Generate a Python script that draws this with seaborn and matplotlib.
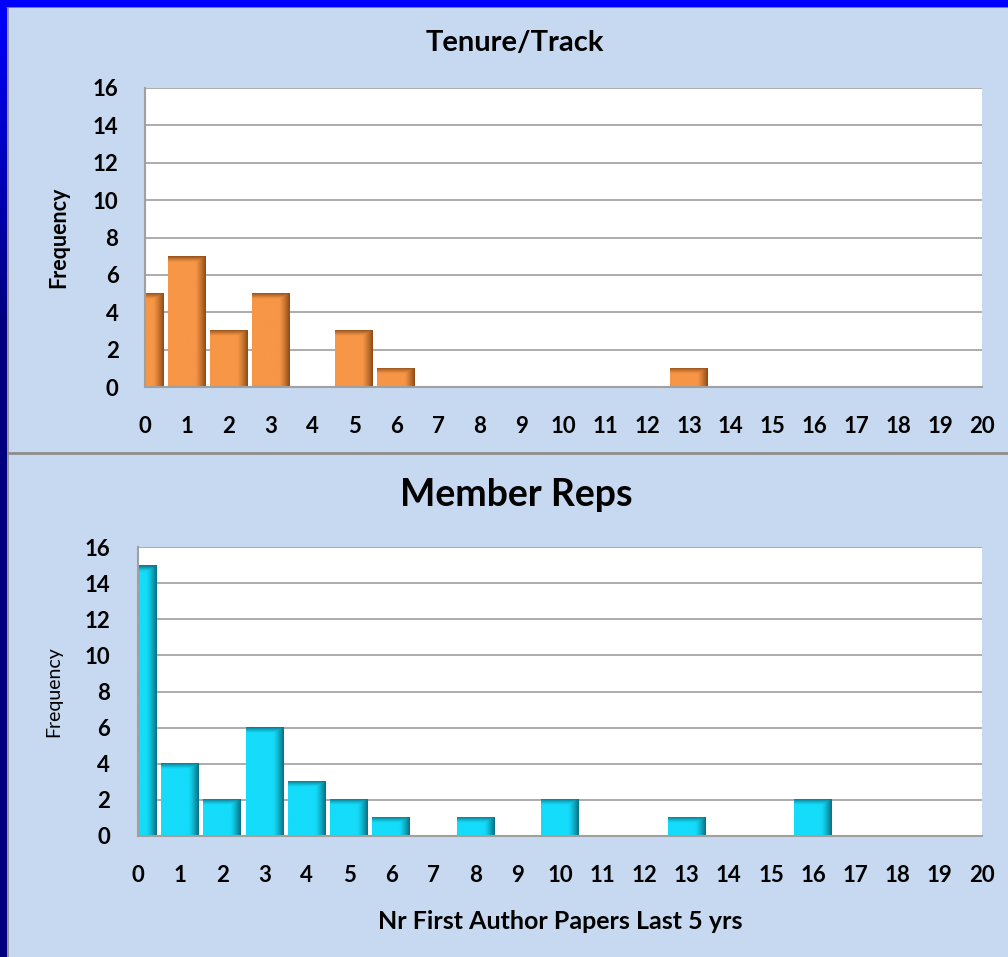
import numpy as np
import seaborn as sns
import matplotlib.pyplot as plt
from matplotlib.colors import to_rgb

# Veriler
bins = list(range(21))
tenure_counts = [5, 7, 3, 5, 0, 3, 1, 0, 0, 0, 0, 0, 0, 1, 0, 0, 0, 0, 0, 0, 0]
member_counts = [15, 4, 2, 6, 3, 2, 1, 0, 1, 0, 2, 0, 0, 1, 0, 0, 2, 0, 0, 0, 0]
y_ticks = list(range(0, 17, 2))

sns.set_style("white")
plt.rcParams['font.family'] = ['Lato', 'DejaVu Sans']
plt.rcParams['text.color'] = 'black'
plt.rcParams['axes.labelcolor'] = 'black'

W, H = 1008, 957
panel_bg = '#C6D9F0'
grid_col = '#A6A6A6'

fig = plt.figure(figsize=(W / 100, H / 100), dpi=100)
fig.patch.set_facecolor(panel_bg)


def fx(px):
    return px / W


def fy(px):
    return 1 - px / H


# Kenarlık: sol gradyan ve üst mavi şerit
strip = fig.add_axes([0, 0, fx(7), 1])
grad = np.linspace(0, 1, 256).reshape(-1, 1)
col = np.zeros((256, 1, 3))
col[:, 0, 2] = 0.5 + 0.5 * np.clip(1 - grad[:, 0] * 3, 0, 1)
strip.imshow(col, aspect='auto', extent=(0, 1, 0, 1))
strip.axis('off')
fig.add_artist(plt.Rectangle((0, fy(6)), 1, 1 - fy(6), transform=fig.transFigure,
                             color='#0000FF', zorder=5))
fig.add_artist(plt.Line2D([fx(7.5), fx(7.5)], [0, fy(6)], transform=fig.transFigure,
                          color='#8C8C8C', lw=1.2))
fig.add_artist(plt.Line2D([fx(7), 1], [fy(6.5), fy(6.5)], transform=fig.transFigure,
                          color='#8C8C8C', lw=1.2))
# Paneller arasındaki çizgi
fig.add_artist(plt.Line2D([fx(8), 1], [fy(453), fy(453)], transform=fig.transFigure,
                          color='#8C8C8C', lw=2))


def shade_bars(ax, base, dark):
    b = np.array(to_rgb(base))
    d = np.array(to_rgb(dark))
    for p in list(ax.patches):
        x0, y0 = p.get_x(), p.get_y()
        w, h = p.get_width(), p.get_height()
        if h <= 0:
            continue
        nx, ny = 120, 120
        t = np.linspace(0, 1, nx)
        fh = np.clip((t - 0.72) / 0.28, 0, 1) ** 1.3
        band = min(0.3 / h, 0.45)
        v = np.linspace(0, 1, ny)  # 0 = alt, 1 = üst
        fv = np.clip((v - (1 - band)) / band, 0, 1) ** 1.2
        f = np.maximum(fh[None, :], 0.85 * fv[:, None])
        img = b[None, None, :] * (1 - f[..., None]) + d[None, None, :] * f[..., None]
        ax.imshow(img, extent=(x0, x0 + w, y0, y0 + h), origin='lower',
                  aspect='auto', zorder=2, interpolation='bilinear')
        p.set_visible(False)


def style_axes(ax, tick_size, pad_y):
    ax.set_facecolor('white')
    ax.set_xlim(0, 20)
    ax.set_ylim(0, 16)
    ax.set_yticks(y_ticks)
    ax.set_xticks(bins)
    ax.set_xticklabels([str(b) for b in bins])
    ax.set_axisbelow(True)
    ax.yaxis.grid(True, color=grid_col, lw=1.3)
    ax.xaxis.grid(False)
    for s in ['top', 'right']:
        ax.spines[s].set_visible(False)
    for s in ['left', 'bottom']:
        ax.spines[s].set_color('#A0A0A0')
        ax.spines[s].set_linewidth(1.5)
    ax.tick_params(axis='both', direction='out', length=7, width=1.3, color='#A0A0A0',
                   labelsize=tick_size, labelcolor='black')
    ax.tick_params(axis='x', pad=14)
    ax.tick_params(axis='y', pad=pad_y)
    for lab in ax.get_xticklabels() + ax.get_yticklabels():
        lab.set_fontweight('bold')


# Üst panel: Tenure/Track
ax1 = fig.add_axes([fx(145), fy(387), fx(982 - 145), fy(88) - fy(387)])
sns.barplot(x=bins, y=tenure_counts, ax=ax1, color='#F79646', width=0.9, saturation=1)
shade_bars(ax1, '#F79646', '#8A4A16')
style_axes(ax1, 16, 12)
ax1.set_ylabel('Frequency', fontsize=15.5, fontweight='bold', labelpad=17)
ax1.set_xlabel('')
fig.text(fx(515), fy(43), 'Tenure/Track', ha='center', va='center',
         fontsize=21, fontweight='bold')

# Alt panel: Member Reps
ax2 = fig.add_axes([fx(138), fy(836), fx(982 - 138), fy(547) - fy(836)])
sns.barplot(x=bins, y=member_counts, ax=ax2, color='#14DCFA', width=0.9, saturation=1)
shade_bars(ax2, '#14DCFA', '#0A6E80')
style_axes(ax2, 16, 13)
ax2.set_ylabel('Frequency', fontsize=14, labelpad=16)
ax2.set_xlabel('Nr First Author Papers Last 5 yrs', fontsize=18, fontweight='bold',
               labelpad=17)
fig.text(fx(516), fy(495), 'Member Reps', ha='center', va='center',
         fontsize=27, fontweight='bold')

plt.savefig('out.png', dpi=100, facecolor=fig.get_facecolor())
